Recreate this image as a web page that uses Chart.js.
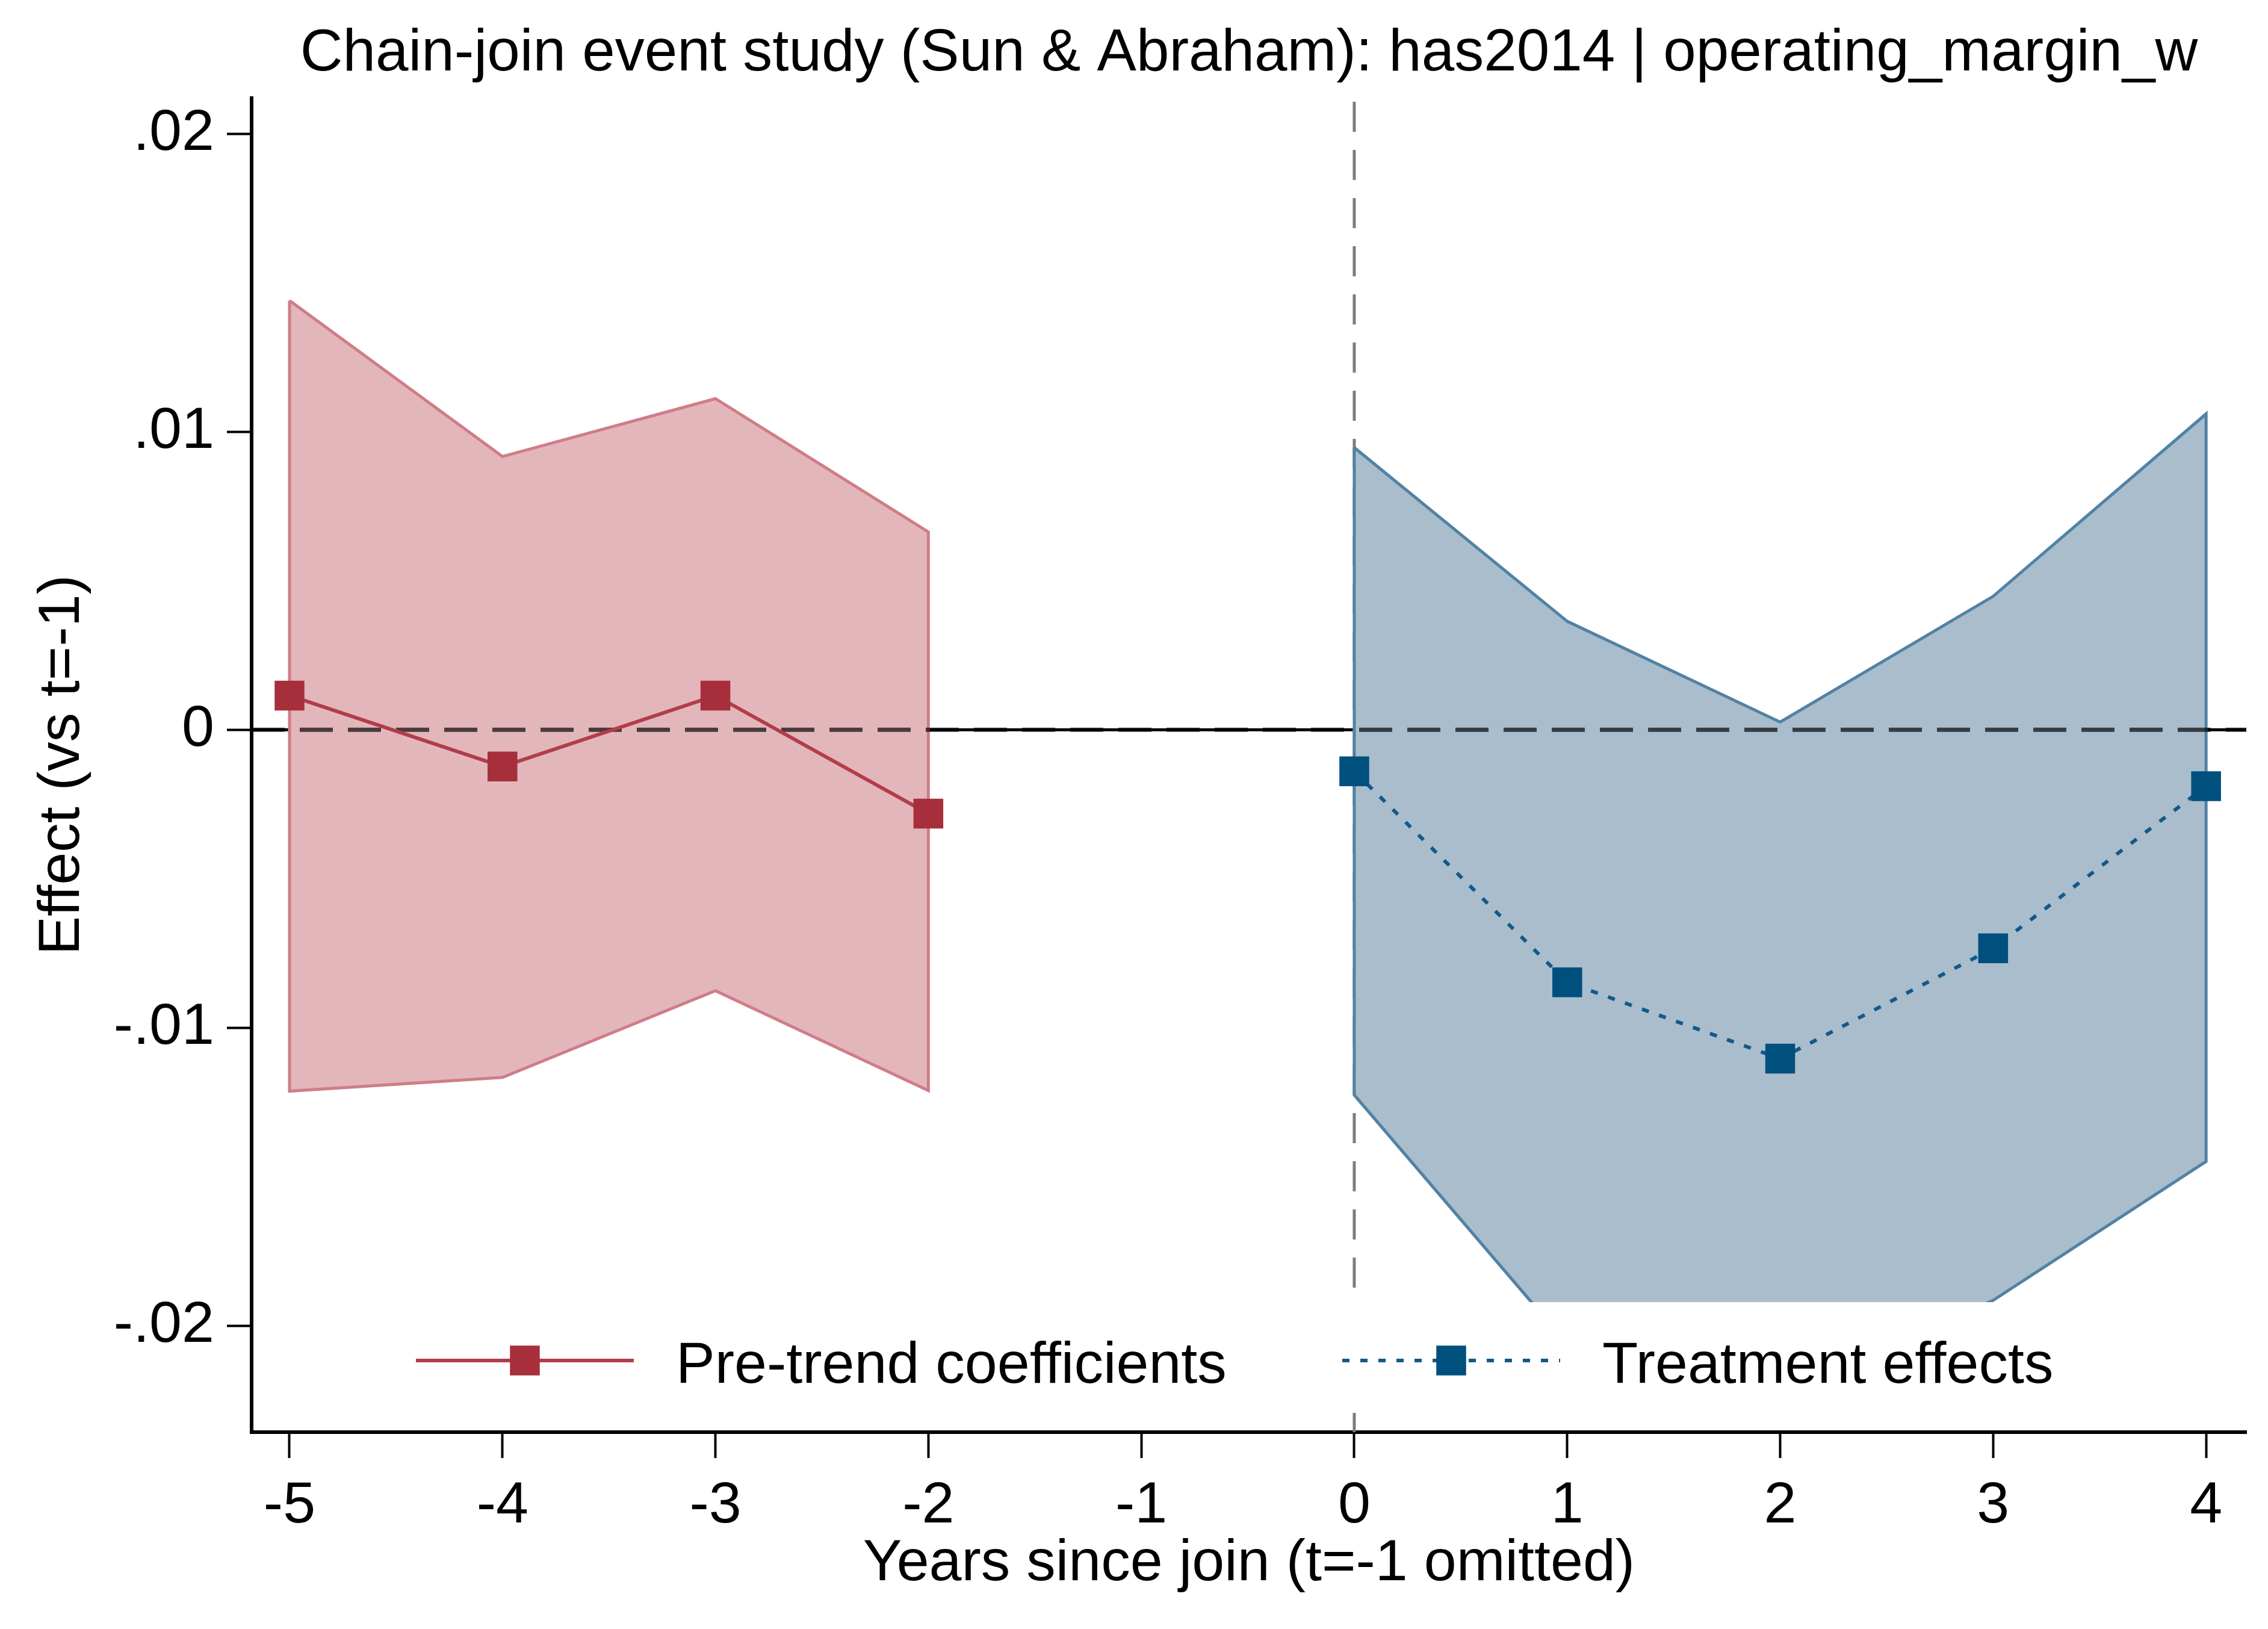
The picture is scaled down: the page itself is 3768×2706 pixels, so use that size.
<!DOCTYPE html>
<html>
<head>
<meta charset="utf-8">
<script src="https://cdn.jsdelivr.net/npm/chart.js@4.4.1/dist/chart.umd.min.js"></script>
<style>
  html, body { margin: 0; padding: 0; background: #fff; }
  #wrap { width: 3768px; height: 2706px; }
</style>
</head>
<body>
<div id="wrap"><canvas id="es"></canvas></div>
<script>
// event study estimates
const preYears = [-5, -4, -3, -2];
const preCoef = [0.00115, -0.00123, 0.00115, -0.00281];
const preUpper = [0.0144, 0.00917, 0.01111, 0.00664];
const preLower = [-0.01212, -0.01166, -0.00875, -0.0121];

const postYears = [0, 1, 2, 3, 4];
const postCoef = [-0.00139, -0.00847, -0.01103, -0.00733, -0.00189];
const postUpper = [0.00947, 0.00364, 0.00026, 0.00448, 0.0106];
const postLower = [-0.01225, -0.0206, -0.0223, -0.01914, -0.01448];

const xTicks = [-5, -4, -3, -2, -1, 0, 1, 2, 3, 4];
const xTickLabels = ['-5', '-4', '-3', '-2', '-1', '0', '1', '2', '3', '4'];
const yTicks = [-0.02, -0.01, 0, 0.01, 0.02];
const yTickLabels = ['-.02', '-.01', '0', '.01', '.02'];
const xRange = [-5.178, 4.189];
const yRange = [-0.02356, 0.0212];

const FONT = "'Liberation Sans', Arial, Helvetica, sans-serif";
Chart.defaults.font.family = FONT;
Chart.defaults.color = '#000';

const pts = (xs, ys) => xs.map((x, i) => ({ x: x, y: ys[i] }));
// closed outline round a CI band: upper edge, then lower edge backwards
const outline = (xs, hi, lo) => pts(xs, hi).concat(pts(xs, lo).reverse(), [{ x: xs[0], y: hi[0] }]);

const plain = { pointRadius: 0, fill: false, tension: 0 };

// legend drawn inside the plot, on a white box, like Stata's ring(0) legend
const stataLegend = {
    id: 'stataLegend',
    afterDatasetsDraw(chart, args, o) {
        const ctx = chart.ctx;
        const items = chart.data.datasets.filter(d => d.inLegend);
        ctx.save();
        ctx.fillStyle = '#fff';
        ctx.fillRect(o.left, o.top, o.right - o.left, o.bottom - o.top);
        items.forEach((d, i) => {
            const x0 = o.starts[i];
            ctx.strokeStyle = d.borderColor;
            ctx.lineWidth = d.borderWidth;
            ctx.setLineDash(d.borderDash || []);
            ctx.beginPath();
            ctx.moveTo(x0, o.symbolY);
            ctx.lineTo(x0 + o.symbolWidth, o.symbolY);
            ctx.stroke();
            const side = d.pointRadius * Math.SQRT2;
            ctx.fillStyle = d.pointBackgroundColor;
            ctx.fillRect(x0 + o.symbolWidth / 2 - side / 2, o.symbolY - side / 2, side, side);
            ctx.fillStyle = '#000';
            ctx.font = o.fontSize + 'px ' + FONT;
            ctx.textBaseline = 'middle';
            ctx.textAlign = 'left';
            ctx.fillText(d.label, x0 + o.symbolWidth + o.gap, o.textY);
        });
        ctx.restore();
    }
};

const ctx = document.getElementById('es').getContext('2d');
const chart = new Chart(ctx, {
    type: 'line',
    data: {
        datasets: [
            { ...plain, data: [{ x: xRange[0], y: 0 }, { x: xRange[1], y: 0 }],
              borderColor: '#000', borderWidth: 5, order: 20 },
            { ...plain, data: [{ x: 0, y: yRange[0] }, { x: 0, y: yRange[1] }],
              borderColor: '#7d7d7d', borderWidth: 5, borderDash: [50, 30], order: 19 },
            { ...plain, data: pts(preYears, preUpper), fill: '+1',
              backgroundColor: '#e3b6bb', borderWidth: 0, order: 18 },
            { ...plain, data: pts(preYears, preLower), borderWidth: 0, order: 17 },
            { ...plain, data: pts(postYears, postUpper), fill: '+1',
              backgroundColor: '#a9bdcd', borderWidth: 0, order: 16 },
            { ...plain, data: pts(postYears, postLower), borderWidth: 0, order: 15 },
            { ...plain, data: outline(preYears, preUpper, preLower),
              borderColor: '#cf7d87', borderWidth: 5, order: 14 },
            { ...plain, data: outline(postYears, postUpper, postLower),
              borderColor: '#5282a4', borderWidth: 5, order: 13 },
            { ...plain, data: [{ x: xRange[0], y: 0 }, { x: xRange[1], y: 0 }],
              borderColor: 'rgba(0,0,0,0.68)', borderWidth: 7, borderDash: [55, 25], order: 12 },
            { label: 'Pre-trend coefficients', inLegend: true,
              data: pts(preYears, preCoef), fill: false, tension: 0,
              borderColor: '#b23d4a', borderWidth: 6,
              pointStyle: 'rect', pointRadius: 35, pointBorderWidth: 0,
              pointBackgroundColor: '#a72f3c', order: 2 },
            { label: 'Treatment effects', inLegend: true,
              data: pts(postYears, postCoef), fill: false, tension: 0,
              borderColor: '#12598a', borderWidth: 6, borderDash: [12, 18],
              pointStyle: 'rect', pointRadius: 35, pointBorderWidth: 0,
              pointBackgroundColor: '#00507e', order: 1 }
        ]
    },
    options: {
        responsive: true,
        maintainAspectRatio: false,
        devicePixelRatio: 1,
        animation: false,
        events: [],
        layout: { padding: { top: 0, right: 36, bottom: 0, left: 0 } },
        plugins: {
            legend: { display: false },
            tooltip: { enabled: false },
            title: {
                display: true,
                fullSize: false,
                text: 'Chain-join event study (Sun & Abraham): has2014 | operating_margin_w',
                color: '#000',
                font: { size: 98, weight: 'normal' },
                padding: { top: 31, bottom: 14 }
            },
            stataLegend: {
                left: 640, right: 3470, top: 2163, bottom: 2347,
                starts: [691, 2230], symbolWidth: 362, gap: 70,
                symbolY: 2260, textY: 2270, fontSize: 97
            }
        },
        scales: {
            x: {
                type: 'linear',
                min: xRange[0],
                max: xRange[1],
                afterBuildTicks: s => { s.ticks = xTicks.map(v => ({ value: v })); },
                afterFit: s => { s.height = 327; },
                grid: { drawOnChartArea: false, drawTicks: true, tickLength: 43,
                        tickColor: '#000', tickWidth: 4 },
                border: { display: true, color: '#000', width: 6 },
                ticks: { color: '#000', font: { size: 97 }, padding: 22, maxRotation: 0,
                         autoSkip: false,
                         callback: v => xTickLabels[xTicks.indexOf(v)] },
                title: { display: true, text: 'Years since join (t=-1 omitted)', color: '#000',
                         font: { size: 97 }, padding: { top: 0, bottom: 50 } }
            },
            y: {
                min: yRange[0],
                max: yRange[1],
                afterBuildTicks: s => { s.ticks = yTicks.map(v => ({ value: v })); },
                afterFit: s => { s.width = 418; },
                grid: { drawOnChartArea: false, drawTicks: true, tickLength: 41,
                        tickColor: '#000', tickWidth: 4 },
                border: { display: true, color: '#000', width: 6 },
                ticks: { color: '#000', font: { size: 97 }, padding: 21,
                         callback: v => yTickLabels[yTicks.indexOf(v)] },
                title: { display: true, text: 'Effect (vs t=-1)', color: '#000',
                         font: { size: 97 }, padding: { top: 46, bottom: 0 } }
            }
        }
    },
    plugins: [stataLegend]
});
</script>
</body>
</html>
